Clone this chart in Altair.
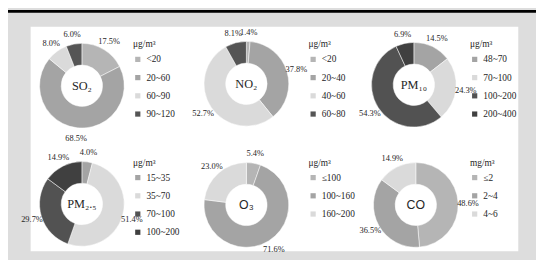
import altair as alt
import pandas as pd

# ---- data ----
SO2_CATS = ["<20", "20~60", "60~90", "90~120"]
SO2_VALS = [17.5, 68.5, 8.0, 6.0]
NO2_CATS = ["<20", "20~40", "40~60", "60~80"]
NO2_VALS = [1.4, 37.8, 52.7, 8.1]
PM10_CATS = ["48~70", "70~100", "100~200", "200~400"]
PM10_VALS = [14.5, 24.3, 54.3, 6.9]
PM25_CATS = ["15~35", "35~70", "70~100", "100~200"]
PM25_VALS = [4.0, 51.4, 29.7, 14.9]
O3_CATS = ["≤100", "100~160", "160~200"]
O3_VALS = [5.4, 71.6, 23.0]
CO_CATS = ["≤2", "2~4", "4~6"]
CO_VALS = [48.6, 36.5, 14.9]
NAMES = ["SO₂", "NO₂", "PM₁₀", "PM₂.₅", "O₃", "CO"]
UNITS = ["μg/m³", "μg/m³", "μg/m³", "μg/m³", "μg/m³", "mg/m³"]

# ---- styles / layout ----
PAL_A = ["#b5b5b5", "#a4a4a4", "#dadada", "#555555"]
PAL_B = ["#a4a4a4", "#dadada", "#525252", "#404040"]
PAL_C = ["#b5b5b5", "#a4a4a4", "#dadada"]
SERIF = "Liberation Serif"
SANS = "Liberation Sans"
INK = "#262626"

panels = [
    (NAMES[0], UNITS[0], SO2_CATS, SO2_VALS, (75, 77), (127, 30), PAL_A, SERIF),
    (NAMES[1], UNITS[1], NO2_CATS, NO2_VALS, (242, 75), (305, 30), PAL_A, SERIF),
    (NAMES[2], UNITS[2], PM10_CATS, PM10_VALS, (412, 76), (469, 30), PAL_B, SERIF),
    (NAMES[3], UNITS[3], PM25_CATS, PM25_VALS, (75, 197), (127, 150), PAL_B, SERIF),
    (NAMES[4], UNITS[4], O3_CATS, O3_VALS, (242, 198), (305, 150), PAL_C, SANS),
    (NAMES[5], UNITS[5], CO_CATS, CO_VALS, (414, 198), (469, 150), PAL_C, SANS),
]

dummy = pd.DataFrame({"a": [0]})
topline = alt.Chart(dummy).mark_rule(color="black", strokeWidth=3).encode(
    x=alt.value(-1), x2=alt.value(536), y=alt.value(1.5)
)
panel_bg = alt.Chart(dummy).mark_rect(color="white").encode(
    x=alt.value(23), x2=alt.value(518), y=alt.value(17), y2=alt.value(245)
)

layers = [topline, panel_bg]
for i, (name, unit, cats, vals, (cx, cy), (lx, ly), pal, cfont) in enumerate(panels):
    field = f"cat{i}"
    df = pd.DataFrame({
        field: cats,
        "v": vals,
        "idx": list(range(len(cats))),
        "lab": [f"{v:.1f}%" for v in vals],
    })
    base = alt.Chart(df).encode(
        theta=alt.Theta("v:Q", stack=True),
        order=alt.Order("idx:Q"),
        x=alt.value(cx),
        y=alt.value(cy),
    )
    arc = base.mark_arc(innerRadius=21, outerRadius=43, stroke="white", strokeWidth=0.5).encode(
        color=alt.Color(
            f"{field}:N",
            scale=alt.Scale(domain=cats, range=pal),
            sort=cats,
            legend=alt.Legend(
                title=unit, orient="none", legendX=lx, legendY=ly,
                symbolType="square", symbolSize=28, symbolStrokeWidth=0,
                labelFont=SERIF, labelFontSize=9.5, labelColor=INK,
                titleFont=SERIF, titleFontSize=9.5, titleFontWeight="normal",
                titleColor=INK, rowPadding=7.5, titlePadding=6, padding=0,
            ),
        )
    )
    txt = base.mark_text(radius=53, font=SERIF, fontSize=8.5, fill=INK).encode(text="lab:N")
    center = alt.Chart(pd.DataFrame({"t": [name]})).mark_text(
        font=cfont, fontSize=12.5, fill=INK
    ).encode(text="t:N", x=alt.value(cx), y=alt.value(cy))
    layers += [arc, txt, center]

chart = alt.layer(*layers).resolve_scale(color="independent").properties(
    width=536, height=252, background="#dddddd", padding=0,
    autosize=alt.AutoSizeParams(type="none"),
).configure_view(stroke=None)

chart.save("out.html", embed_options={"renderer": "svg", "actions": False})
